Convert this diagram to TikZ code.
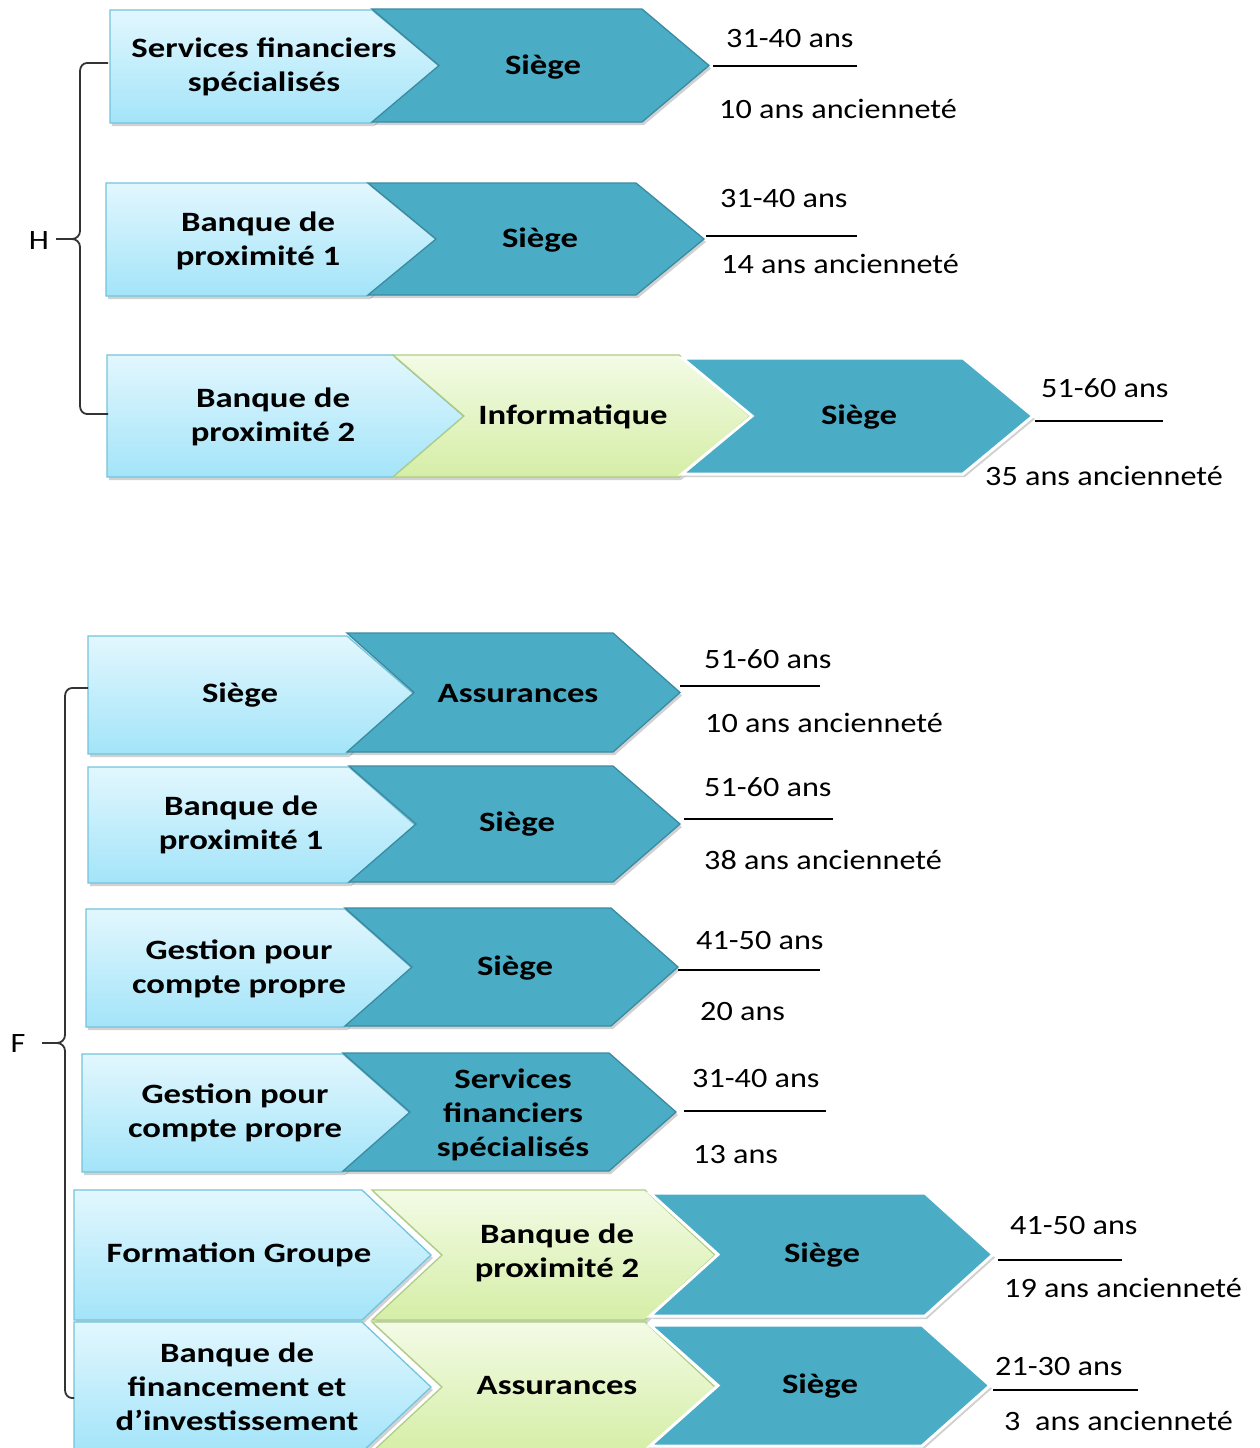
\documentclass[tikz,border=0pt]{standalone}
\usepackage{fontspec}
\setmainfont{Carlito}
\newfontfamily\boxfont[FakeStretch=1.24]{Carlito}
\newfontfamily\lblfont[FakeStretch=1.15]{Carlito}
\usetikzlibrary{shadows}

\definecolor{lightTop}{HTML}{E2F7FE}
\definecolor{lightBot}{HTML}{A3E4F9}
\definecolor{lightEdge}{HTML}{74C4DC}
\definecolor{darkFill}{HTML}{4BACC6}
\definecolor{darkEdge}{HTML}{3A8BA1}
\definecolor{greenTop}{HTML}{F3FBE6}
\definecolor{greenBot}{HTML}{D5EEA6}
\definecolor{greenEdge}{HTML}{B0CD86}
\definecolor{braceCol}{HTML}{333333}

% pentagon (flat left end): style, x0, x1, ytop, ybottom, point depth
\newcommand\pentshape[6]{%
  \path[#1] (#2,#4) -- (#3,#4) -- ({#3+#6},{(#4+#5)/2}) -- (#3,#5) -- (#2,#5) -- cycle;}
% chevron (notched left end): style, x0, x1, ytop, ybottom, point depth
\newcommand\chevshape[6]{%
  \path[#1] (#2,#4) -- (#3,#4) -- ({#3+#6},{(#4+#5)/2}) -- (#3,#5) -- (#2,#5) -- ({#2+#6},{(#4+#5)/2}) -- cycle;}

\begin{document}
\begin{tikzpicture}[x=1pt,y=-1pt,
  softshadow/.style={drop shadow={shadow xshift=2pt,shadow yshift=-3pt,opacity=0.18,fill=black}},
  lightbox/.style={softshadow,top color=lightTop,bottom color=lightBot,draw=lightEdge,line width=1.3pt},
  darkbox/.style={softshadow,fill=darkFill,draw=darkEdge,line width=1.3pt},
  darkglow/.style={softshadow,fill=darkFill,draw=white,line width=3pt},
  greenbox/.style={softshadow,top color=greenTop,bottom color=greenBot,draw=greenEdge,line width=1.3pt},
  boxtext/.style={font=\boxfont\bfseries\fontsize{28}{34}\selectfont,align=center,text=black,inner sep=0pt,yshift=-2pt},
  lbl/.style={font=\lblfont\fontsize{28}{34}\selectfont,text=black,inner sep=0pt,anchor=west,text height=18pt,text depth=0pt},
  rule/.style={draw=black,line width=1.6pt},
  brace/.style={draw=braceCol,line width=1.8pt,line join=round}]

\useasboundingbox (0,0) rectangle (1259,1448);
\fill[white] (0,0) rectangle (1259,1448);

% ---------------- Group H ----------------
\pentshape{lightbox}{110}{372}{10}{123}{68}
\chevshape{darkbox}{372}{642}{9}{122}{67}
\node[boxtext] (h1a) at (264,65) {Services financiers\\spécialisés};
\node[boxtext] (h1b) at (543,65) {Siège};

\pentshape{lightbox}{106}{368}{183}{296}{69}
\chevshape{darkbox}{368}{636}{183}{295}{68}
\node[boxtext] (h2a) at (258,239) {Banque de\\proximité 1};
\node[boxtext] (h2b) at (540,238) {Siège};

\pentshape{lightbox}{107}{393}{355}{477}{71}
\chevshape{greenbox}{393}{679}{355}{477}{71}
\chevshape{darkglow}{682}{963}{358}{474}{70}
\node[boxtext] (h3a) at (273,415) {Banque de\\proximité 2};
\node[boxtext] (h3b) at (573,415) {Informatique};
\node[boxtext] (h3c) at (859,415) {Siège};

% age / seniority labels
\node[lbl] (h1age) at (726,38) {31-40 ans};
\coordinate (h1l) at (713,66); \coordinate (h1r) at (857,66);
\draw[rule] (h1l) -- (h1r);
\node[lbl] (h1sen) at (719,109) {10 ans ancienneté};

\node[lbl] (h2age) at (720,198) {31-40 ans};
\coordinate (h2l) at (706,236); \coordinate (h2r) at (857,236);
\draw[rule] (h2l) -- (h2r);
\node[lbl] (h2sen) at (721,264) {14 ans ancienneté};

\node[lbl] (h3age) at (1041,388) {51-60 ans};
\coordinate (h3l) at (1035,421); \coordinate (h3r) at (1163,421);
\draw[rule] (h3l) -- (h3r);
\node[lbl] (h3sen) at (985,476) {35 ans ancienneté};

% brace for H
\coordinate (hTop) at (108,63);
\coordinate (hMid) at (56,239);
\coordinate (hBot) at (108,414);
\draw[brace] (hTop) -- (87,63) to[out=180,in=90] (80,71) -- (80,231)
  to[out=-90,in=0] (72,239) -- (hMid);
\draw[brace] (hMid) -- (72,239) to[out=0,in=90] (80,247) -- (80,406)
  to[out=-90,in=180] (87,414) -- (hBot);
\node[lbl,anchor=center] (hLetter) at (39,240) {H};

% ---------------- Group F ----------------
\pentshape{lightbox}{88}{347}{636}{754}{68}
\chevshape{darkbox}{347}{613}{633}{752}{67}
\node[boxtext] (f1a) at (240,693) {Siège};
\node[boxtext] (f1b) at (518,692) {Assurances};

\pentshape{lightbox}{88}{349}{767}{883}{66}
\chevshape{darkbox}{349}{613}{766}{882}{67}
\node[boxtext] (f2a) at (241,823) {Banque de\\proximité 1};
\node[boxtext] (f2b) at (517,822) {Siège};

\pentshape{lightbox}{86}{345}{909}{1027}{67}
\chevshape{darkbox}{345}{611}{908}{1026}{67}
\node[boxtext] (f3a) at (239,967) {Gestion pour\\compte propre};
\node[boxtext] (f3b) at (515,966) {Siège};

\pentshape{lightbox}{82}{343}{1054}{1172}{67}
\chevshape{darkbox}{343}{609}{1053}{1171}{67}
\node[boxtext] (f4a) at (235,1111) {Gestion pour\\compte propre};
\node[boxtext] (f4b) at (513,1113) {Services\\financiers\\spécialisés};

\pentshape{lightbox}{74}{362}{1190}{1320}{69}
\chevshape{greenbox}{372}{645}{1190}{1320}{70}
\chevshape{darkglow}{650}{925}{1193}{1316}{68}
\node[boxtext] (f5a) at (239,1253) {Formation Groupe};
\node[boxtext] (f5b) at (557,1251) {Banque de\\proximité 2};
\node[boxtext] (f5c) at (822,1253) {Siège};

\pentshape{lightbox}{74}{362}{1322}{1452}{69}
\chevshape{greenbox}{372}{645}{1322}{1452}{70}
\chevshape{darkglow}{650}{922}{1325}{1446}{68}
\node[boxtext] (f6a) at (237,1385) {Banque de\\financement et\\d’investissement};
\node[boxtext] (f6b) at (557,1384) {Assurances};
\node[boxtext] (f6c) at (820,1384) {Siège};

% age / seniority labels
\node[lbl] (f1age) at (704,659) {51-60 ans};
\coordinate (f1l) at (680,686); \coordinate (f1r) at (820,686);
\draw[rule] (f1l) -- (f1r);
\node[lbl] (f1sen) at (705,723) {10 ans ancienneté};

\node[lbl] (f2age) at (704,787) {51-60 ans};
\coordinate (f2l) at (684,819); \coordinate (f2r) at (833,819);
\draw[rule] (f2l) -- (f2r);
\node[lbl] (f2sen) at (704,860) {38 ans ancienneté};

\node[lbl] (f3age) at (696,940) {41-50 ans};
\coordinate (f3l) at (678,970); \coordinate (f3r) at (820,970);
\draw[rule] (f3l) -- (f3r);
\node[lbl] (f3sen) at (700,1011) {20 ans};

\node[lbl] (f4age) at (692,1078) {31-40 ans};
\coordinate (f4l) at (684,1111); \coordinate (f4r) at (826,1111);
\draw[rule] (f4l) -- (f4r);
\node[lbl] (f4sen) at (693,1154) {13 ans};

\node[lbl] (f5age) at (1010,1225) {41-50 ans};
\coordinate (f5l) at (998,1260); \coordinate (f5r) at (1122,1260);
\draw[rule] (f5l) -- (f5r);
\node[lbl] (f5sen) at (1004,1288) {19 ans ancienneté};

\node[lbl] (f6age) at (995,1366) {21-30 ans};
\coordinate (f6l) at (993,1390); \coordinate (f6r) at (1138,1390);
\draw[rule] (f6l) -- (f6r);
\node[lbl] (f6sen) at (1004,1421) {3~ ans ancienneté};

% brace for F
\coordinate (fTop) at (88,688);
\coordinate (fMid) at (42,1043);
\coordinate (fBot) at (74,1398);
\draw[brace] (fTop) -- (72,688) to[out=180,in=90] (65,696) -- (65,1035)
  to[out=-90,in=0] (57,1043) -- (fMid);
\draw[brace] (fMid) -- (57,1043) to[out=0,in=90] (65,1051) -- (65,1390)
  to[out=-90,in=180] (72,1398) -- (fBot);
\node[lbl,anchor=center] (fLetter) at (18,1043) {F};

\end{tikzpicture}
\end{document}
